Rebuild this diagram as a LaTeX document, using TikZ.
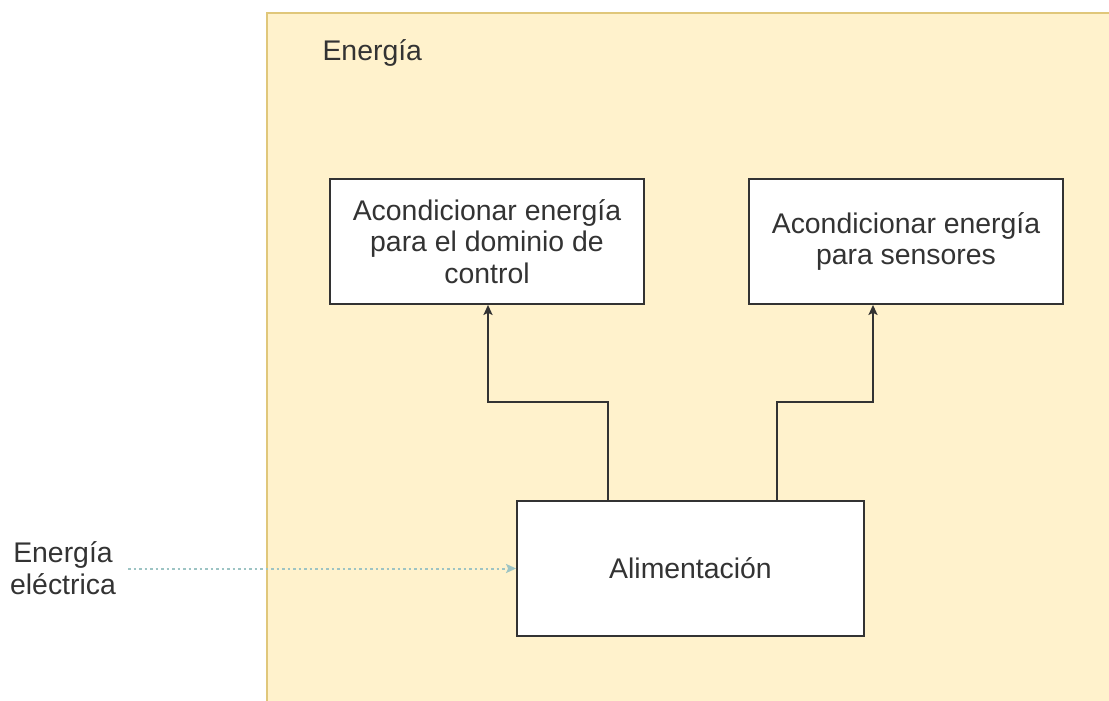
\documentclass[tikz,border=0pt]{standalone}
\usepackage{fontspec}
\setmainfont{Liberation Sans}
\usetikzlibrary{arrows.meta}
\definecolor{bgfill}{HTML}{FFF2CC}
\definecolor{bgline}{HTML}{E0C77A}
\definecolor{ink}{HTML}{333333}
\definecolor{flow}{HTML}{9DC4C4}
\begin{document}
\begin{tikzpicture}[x=1pt,y=-1pt,
  txt/.style={text=ink,font=\fontsize{28.4}{31.5}\selectfont},
  block/.style={draw=ink,line width=1.8pt,fill=white,align=center,txt,inner sep=0pt},
  arr/.style={draw=ink,line width=1.8pt,-{Stealth[length=10pt,width=9pt,inset=2pt]}},
  flowarr/.style={draw=flow,line width=2pt,dash pattern=on 2.5pt off 3pt,-{Stealth[length=10pt,width=9pt,inset=2pt]}}
]
\useasboundingbox (0,0) rectangle (1109,701);
\fill[white] (0,0) rectangle (1109,701);
\draw[bgline,fill=bgfill,line width=1.5pt] (267,13) rectangle (1130,720);
\node[txt,anchor=base west] (lbl) at (319,61) {Energía};
\node[block,minimum width=314pt,minimum height=125pt] (b1) at (487,241.5)
  {Acondicionar energía\\para el dominio de\\control};
\node[block,minimum width=314pt,minimum height=125pt] (b2) at (906,241.5)
  {Acondicionar energía\\para sensores};
\node[block,minimum width=347pt,minimum height=135pt] (ali) at (690.5,568.5)
  {Alimentación};
\node[txt,align=center] (src) at (63,568) {Energía\\eléctrica};
\coordinate (s0) at (128,568.5);
\draw[arr] ([xshift=-82.5pt]ali.north) -- ++(0,-98) -| ([xshift=1pt]b1.south);
\draw[arr] ([xshift=86.5pt]ali.north) -- ++(0,-98) -| ([xshift=-33pt]b2.south);
\draw[flowarr] (s0) -- (ali.west);
\end{tikzpicture}
\end{document}
